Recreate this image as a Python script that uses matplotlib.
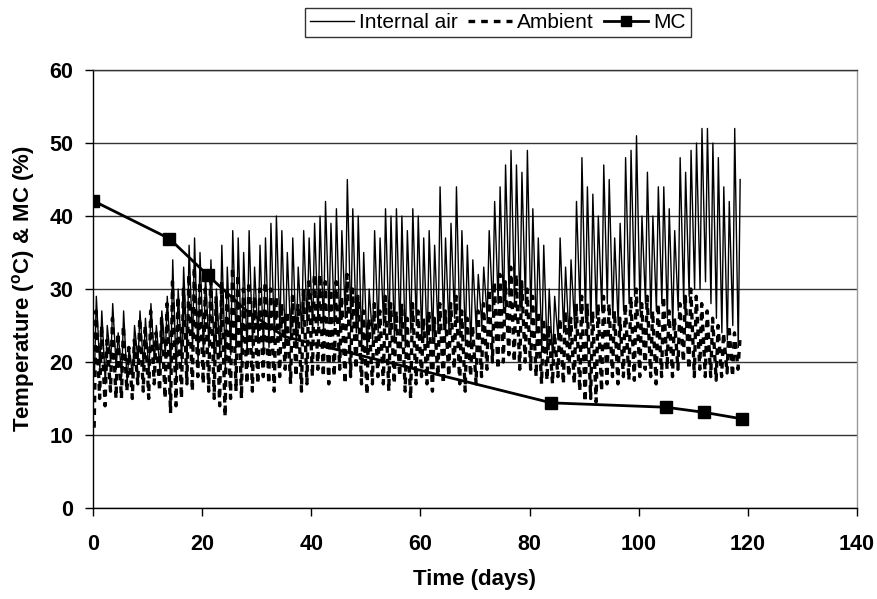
"""Drying trial: internal air and ambient temperature with moisture content."""

import numpy as np
import matplotlib.pyplot as plt

plt.rcParams['font.family'] = ['Liberation Sans', 'DejaVu Sans']

# Daily maximum / minimum readings, days 0..118
internal_max = [29, 27, 25, 28, 24, 27, 22, 25, 27, 26, 28, 25, 27, 29,
                34, 30, 33, 36, 37, 35, 32,
                34, 30, 36, 33, 38, 37, 35, 38, 33, 36,
                37, 39, 40, 38, 35, 37, 33, 38, 37, 39,
                40, 42, 39, 41, 38, 45, 41, 40, 35, 30,
                38, 37, 41, 40, 41, 40, 38, 41, 40, 37,
                38, 36, 44, 37, 39, 44, 38, 36, 34, 32,
                33, 38, 42, 44, 47, 49, 47, 46, 49, 41,
                37, 36, 30, 29, 37, 33, 34, 42, 48, 44,
                43, 40, 47, 45, 37, 39, 48, 49, 51, 40,
                46, 40, 44, 44, 41, 38, 48, 46, 49, 50,
                52, 52, 50, 48, 44, 42, 52, 45]
internal_min = [18, 19, 17, 20, 19, 18, 17, 18, 20, 19, 18, 20, 19, 21,
                19, 18, 20, 21, 22, 20, 21,
                22, 20, 21, 19, 21, 22, 20, 21, 22, 23,
                21, 22, 23, 24, 22, 23, 22, 24, 25, 24,
                25, 24, 26, 25, 24, 26, 25, 24, 22, 21,
                23, 24, 25, 24, 23, 24, 22, 24, 25, 23,
                22, 23, 24, 25, 24, 26, 24, 23, 22, 24,
                25, 26, 27, 28, 27, 29, 28, 27, 28, 26,
                24, 22, 21, 20, 23, 24, 23, 25, 27, 26,
                25, 26, 27, 28, 26, 25, 27, 28, 29, 27,
                28, 26, 27, 28, 26, 25, 27, 28, 29, 30,
                30, 31, 28, 26, 24, 23, 25, 22]
ambient_max = [27, 25, 23, 26, 24, 25, 22, 23, 26, 25, 27, 24, 26, 28,
               31, 29, 30, 32, 33, 31, 30,
               32, 29, 31, 30, 33, 32, 30, 31, 29, 30,
               31, 30, 29, 28, 27, 29, 28, 30, 31, 32,
               32, 31, 30, 31, 29, 32, 30, 29, 27, 26,
               28, 27, 29, 28, 27, 28, 26, 28, 27, 26,
               27, 26, 28, 27, 28, 29, 27, 26, 25, 27,
               28, 30, 31, 32, 31, 33, 32, 31, 30, 29,
               27, 26, 25, 24, 26, 27, 26, 28, 29, 28,
               27, 28, 29, 28, 27, 26, 28, 29, 30, 28,
               29, 27, 28, 29, 27, 26, 28, 29, 30, 29,
               28, 27, 26, 25, 24, 25, 24, 23]
ambient_min = [11, 15, 14, 16, 15, 15, 16, 15, 17, 16, 15, 17, 16, 15,
               13, 14, 15, 17, 16, 18, 17,
               16, 15, 14, 12.5, 15, 16, 15, 17, 16, 17,
               18, 17, 16, 18, 19, 17, 18, 16, 17, 18,
               19, 18, 17, 18, 19, 17, 18, 19, 17, 15.5,
               17, 18, 17, 16, 17, 18, 16, 15, 17, 18,
               17, 16, 18, 17, 18, 19, 17, 16, 18, 17,
               18, 19, 20, 19, 20, 21, 20, 19, 20, 19,
               18, 17, 17.5, 17, 18, 17, 18, 17, 16, 14.5,
               15, 14.5, 16, 17, 18, 17, 18, 17.5, 17.5, 18,
               19, 18, 17, 18, 19, 18, 19, 20, 19, 18,
               19, 18, 18, 17.5, 18, 18.5, 18, 19]

# Moisture content samples
mc_days = [0, 14, 21, 28, 35, 84, 105, 112, 119]
mc_values = [42.1, 36.9, 31.9, 27.1, 23.5, 14.4, 13.8, 13.1, 12.2]


def daily_trace(mins, maxs, t_min=0.25, t_max=0.6):
    """Interleave daily min (early morning) and max (afternoon) readings."""
    days = np.arange(len(mins))
    t = np.column_stack([days + t_min, days + t_max]).ravel()
    v = np.column_stack([mins, maxs]).ravel()
    return t, v


t_int, v_int = daily_trace(internal_min, internal_max)
t_amb, v_amb = daily_trace(ambient_min, ambient_max, 0.2, 0.55)

fig = plt.figure(figsize=(8.78, 5.99), dpi=100)
ax = fig.add_axes([0.106, 0.152, 0.870, 0.731])

# MC sits underneath the temperature traces, as in the original
ax.plot(mc_days, mc_values, color='black', lw=2, marker='s', markersize=9,
        markevery=[0, 1, 2, 5, 6, 7, 8], label='MC', zorder=2)
ax.plot(t_int, v_int, color='black', lw=1.0, label='Internal air', zorder=3)
ax.plot(t_amb, v_amb, color='black', lw=2.4, linestyle=(0, (2.0, 1.8)),
        label='Ambient', zorder=4)

ax.set_xlim(0, 140)
ax.set_ylim(0, 60)
ax.set_xticks(np.arange(0, 141, 20))
ax.set_yticks(np.arange(0, 61, 10))
ax.yaxis.grid(True, color='#333333', lw=1)
ax.set_axisbelow(True)

ax.spines['top'].set_color('#333333')
ax.spines['right'].set_color('#999999')
for side in ['top', 'right', 'left', 'bottom']:
    ax.spines[side].set_linewidth(1)

ax.tick_params(direction='out', length=6, width=1, labelsize=15.5)
ax.tick_params(axis='x', pad=13)
ax.tick_params(axis='y', pad=8)
for lbl in ax.get_xticklabels() + ax.get_yticklabels():
    lbl.set_fontweight('bold')

ax.set_xlabel('Time (days)', fontsize=16, fontweight='bold', labelpad=10)
ax.set_ylabel('Temperature ($^{\\mathregular{o}}$C) & MC (%)', fontsize=16,
              fontweight='bold', labelpad=9)

handles, labels = ax.get_legend_handles_labels()
order = [1, 2, 0]
leg = fig.legend([handles[i] for i in order], [labels[i] for i in order],
                 loc='center', bbox_to_anchor=(0.567, 0.962), ncol=3,
                 fontsize=15, frameon=True, fancybox=False, handlelength=2.1,
                 handletextpad=0.25, columnspacing=0.5, borderpad=0.25,
                 borderaxespad=0, markerscale=0.8)
leg.get_frame().set_edgecolor('black')
leg.get_frame().set_linewidth(1)

fig.savefig('out.png', dpi=100)
